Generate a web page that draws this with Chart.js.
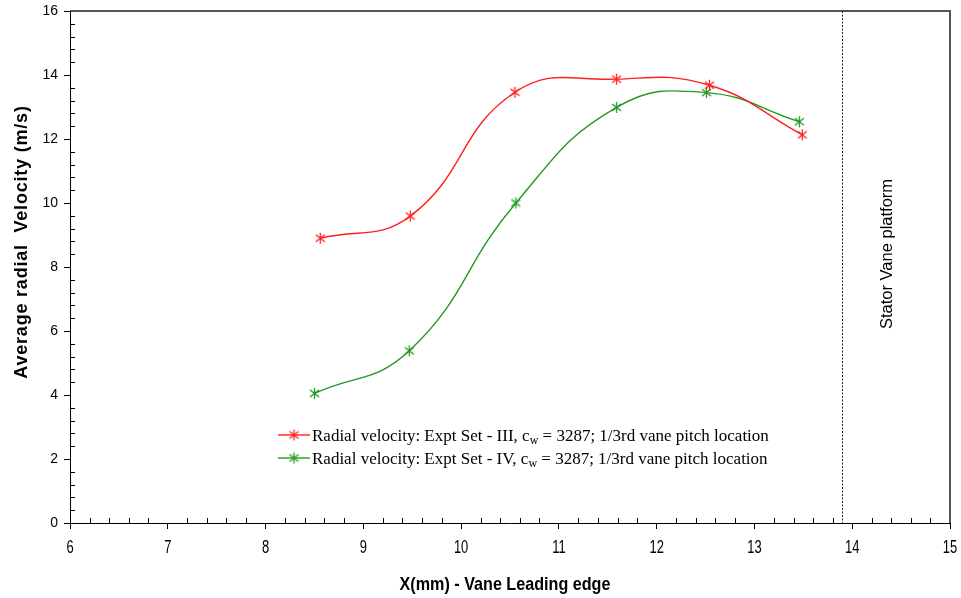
<!DOCTYPE html>
<html>
<head>
<meta charset="utf-8">
<script src="https://cdn.jsdelivr.net/npm/chart.js@4/dist/chart.umd.min.js"></script>
<style>
  html, body { margin: 0; padding: 0; background: #ffffff; }
  canvas { display: block; }
</style>
</head>
<body>
<canvas id="chart" width="961" height="598"></canvas>
<script>
// Radial velocity measurements along the vane leading edge
const setIIIx = [8.56, 9.48, 10.55, 11.59, 12.54, 13.49];
const setIIIy = [8.90, 9.59, 13.46, 13.87, 13.68, 12.13];
const setIVx  = [8.50, 9.47, 10.56, 11.59, 12.51, 13.46];
const setIVy  = [4.05, 5.38, 10.00, 12.99, 13.45, 12.54];

const xTickValues = [6, 7, 8, 9, 10, 11, 12, 13, 14, 15];
const yTickValues = [0, 2, 4, 6, 8, 10, 12, 14, 16];
const statorEdgeX = 13.9;

const seriesLabels = [
  ['Radial velocity: Expt Set - III, c', 'w', ' = 3287; 1/3rd vane pitch location'],
  ['Radial velocity: Expt Set - IV, c', 'w', ' = 3287; 1/3rd vane pitch location']
];

const RED = '#ff2020';
const GREEN = '#229922';

// asterisk marker (vertical stroke + diagonal cross)
function asterisk(color) {
  const c = document.createElement('canvas');
  c.width = 13; c.height = 13;
  const g = c.getContext('2d');
  g.strokeStyle = color;
  g.lineWidth = 1.3;
  g.beginPath();
  g.moveTo(6.5, 1); g.lineTo(6.5, 12);
  g.moveTo(2, 3); g.lineTo(11, 10);
  g.moveTo(11, 3); g.lineTo(2, 10);
  g.stroke();
  return c;
}
const redStar = asterisk(RED);
const greenStar = asterisk(GREEN);

function pts(xs, ys) { return xs.map((x, i) => ({ x: x, y: ys[i] })); }

const SANS = '"Liberation Sans", Arial, sans-serif';
const SERIF = '"Liberation Serif", "Times New Roman", serif';

// condensed text: regular face squeezed horizontally
function narrowText(ctx, text, cx, cy, font, squeeze) {
  ctx.save();
  ctx.translate(cx, cy);
  ctx.scale(squeeze, 1);
  ctx.font = font;
  ctx.textAlign = 'center';
  ctx.textBaseline = 'middle';
  ctx.fillText(text, 0, 0);
  ctx.restore();
}

const decorations = {
  id: 'decorations',
  beforeDatasetsDraw(chart) {
    const { ctx, chartArea: a, scales: { x, y } } = chart;
    ctx.save();
    // top and right frame
    ctx.strokeStyle = '#555555';
    ctx.lineWidth = 2;
    ctx.beginPath();
    ctx.moveTo(a.left, a.top); ctx.lineTo(a.right, a.top); ctx.lineTo(a.right, a.bottom);
    ctx.stroke();

    // minor ticks pointing inward
    ctx.strokeStyle = '#000000';
    ctx.lineWidth = 1;
    ctx.beginPath();
    for (let v = 6; v <= 15.0001; v += 0.2) {
      if (Math.abs(v - Math.round(v)) < 1e-6) continue;
      const px = Math.round(x.getPixelForValue(v)) + 0.5;
      ctx.moveTo(px, a.bottom); ctx.lineTo(px, a.bottom - 5);
    }
    for (let v = 0; v <= 16.0001; v += 0.4) {
      if (Math.abs(v / 2 - Math.round(v / 2)) < 1e-6) continue;
      const py = Math.round(y.getPixelForValue(v)) + 0.5;
      ctx.moveTo(a.left, py); ctx.lineTo(a.left + 5, py);
    }
    ctx.stroke();

    // x tick labels
    ctx.fillStyle = '#000000';
    xTickValues.forEach(v => {
      narrowText(ctx, String(v), x.getPixelForValue(v), 548, '18px ' + SANS, 0.72);
    });

    // stator vane edge
    const sx = Math.round(x.getPixelForValue(statorEdgeX)) + 0.5;
    ctx.setLineDash([2, 1.5]);
    ctx.strokeStyle = '#222222';
    ctx.beginPath();
    ctx.moveTo(sx, a.top); ctx.lineTo(sx, a.bottom);
    ctx.stroke();
    ctx.setLineDash([]);

    ctx.textAlign = 'center';
    ctx.textBaseline = 'middle';
    ctx.save();
    ctx.translate(887, 254);
    ctx.rotate(-Math.PI / 2);
    ctx.font = '16.5px ' + SANS;
    ctx.fillText('Stator Vane platform', 0, 0);
    ctx.restore();

    // axis titles
    ctx.save();
    ctx.translate(22, 242);
    ctx.rotate(-Math.PI / 2);
    ctx.font = 'bold 18px ' + SANS;
    if ('letterSpacing' in ctx) ctx.letterSpacing = '0.8px';
    ctx.fillText('Average radial  Velocity (m/s)', 0, 0);
    ctx.restore();

    narrowText(ctx, 'X(mm) - Vane Leading edge', 505, 585, 'bold 19px ' + SANS, 0.85);

    // legend
    const rows = [[RED, redStar, 435], [GREEN, greenStar, 458]];
    rows.forEach((r, i) => {
      const [col, star, ly] = r;
      ctx.strokeStyle = col;
      ctx.lineWidth = 1.4;
      ctx.beginPath();
      ctx.moveTo(278, ly); ctx.lineTo(310, ly);
      ctx.stroke();
      ctx.drawImage(star, 294 - 6.5, ly - 6.5);
      const parts = seriesLabels[i];
      ctx.textAlign = 'left';
      ctx.textBaseline = 'alphabetic';
      let tx = 312;
      const base = ly + 6;
      ctx.font = '17px ' + SERIF;
      ctx.fillText(parts[0], tx, base);
      tx += ctx.measureText(parts[0]).width;
      ctx.font = '12px ' + SERIF;
      ctx.fillText(parts[1], tx, base + 3);
      tx += ctx.measureText(parts[1]).width;
      ctx.font = '17px ' + SERIF;
      ctx.fillText(parts[2], tx, base);
    });
    ctx.restore();
  }
};

function noScalePadding(s) {
  s.paddingLeft = 0; s.paddingRight = 0; s.paddingTop = 0; s.paddingBottom = 0;
}

new Chart(document.getElementById('chart'), {
  type: 'scatter',
  data: {
    datasets: [
      {
        label: seriesLabels[0].join(''),
        data: pts(setIIIx, setIIIy),
        showLine: true,
        borderColor: RED,
        borderWidth: 1.4,
        tension: 0.45,
        pointStyle: redStar,
        pointRadius: 6,
        pointHoverRadius: 6
      },
      {
        label: seriesLabels[1].join(''),
        data: pts(setIVx, setIVy),
        showLine: true,
        borderColor: GREEN,
        borderWidth: 1.4,
        tension: 0.45,
        pointStyle: greenStar,
        pointRadius: 6,
        pointHoverRadius: 6
      }
    ]
  },
  options: {
    responsive: false,
    animation: false,
    layout: { padding: { top: 11, right: 11, left: 0, bottom: 0 } },
    plugins: { legend: { display: false }, tooltip: { enabled: false } },
    scales: {
      x: {
        type: 'linear',
        min: 6, max: 15,
        afterFit: s => { s.height = 75; noScalePadding(s); },
        afterBuildTicks: s => { s.ticks = xTickValues.map(v => ({ value: v })); },
        grid: { drawOnChartArea: false, drawTicks: true, tickLength: 6, color: '#000000' },
        border: { display: true, color: '#000000', width: 1 },
        ticks: { display: false }
      },
      y: {
        type: 'linear',
        min: 0, max: 16,
        afterFit: s => { s.width = 70; noScalePadding(s); },
        afterBuildTicks: s => { s.ticks = yTickValues.map(v => ({ value: v })); },
        grid: { drawOnChartArea: false, drawTicks: true, tickLength: 6, color: '#000000' },
        border: { display: true, color: '#000000', width: 1 },
        ticks: { color: '#000000', font: { family: SANS, size: 14 }, padding: 6 }
      }
    }
  },
  plugins: [decorations]
});
</script>
</body>
</html>
